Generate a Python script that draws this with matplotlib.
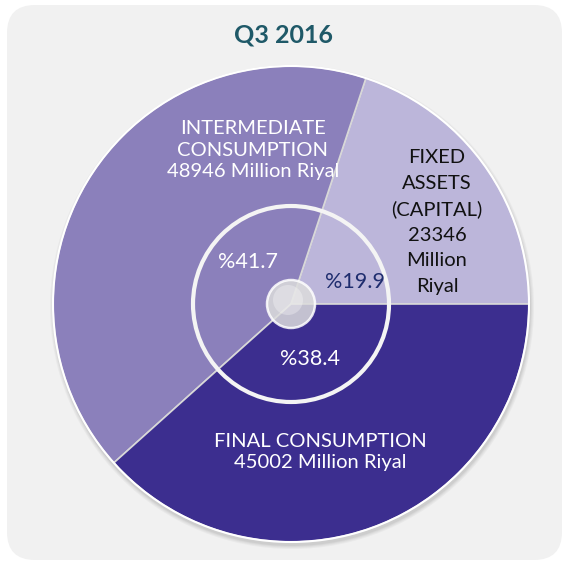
import matplotlib.pyplot as plt
from matplotlib.patches import Circle, FancyBboxPatch

# data
labels = [
    "FIXED\nASSETS\n(CAPITAL)\n23346\nMillion\nRiyal",
    "INTERMEDIATE\nCONSUMPTION\n48946 Million Riyal",
    "FINAL CONSUMPTION\n45002 Million Riyal",
]
values = [23346, 48946, 45002]
pct_labels = ["%19.9", "%41.7", "%38.4"]
colors = ["#BCB6DA", "#8B80BB", "#3C2E8F"]
title = "Q3 2016"

W, H = 568, 565
fig = plt.figure(figsize=(W / 100, H / 100), dpi=100)
ax = fig.add_axes([0, 0, 1, 1])
ax.set_xlim(0, W)
ax.set_ylim(0, H)
ax.set_aspect("equal")
ax.axis("off")
plt.rcParams["font.family"] = ["Lato", "DejaVu Sans"]

# background card
ax.add_patch(FancyBboxPatch((7, 5), 555, 555,
                            boxstyle="round,pad=0,rounding_size=28",
                            facecolor="#f1f1f1", edgecolor="none", zorder=0))

cx, cy, r = 291, H - 304, 238

# soft shadow
for k, a in enumerate([0.05, 0.05, 0.06, 0.08]):
    ax.add_patch(Circle((cx + 1, cy - 3), r + 4 - k, facecolor="#555555",
                        alpha=a, edgecolor="none", zorder=1))

wedges, _ = ax.pie(values, colors=colors, startangle=0, counterclock=True,
                   center=(cx, cy), radius=r, frame=True,
                   wedgeprops=dict(edgecolor="#d8d8d8", linewidth=1.2))
for w in wedges:
    w.set_zorder(2)
ax.set_xlim(0, W)
ax.set_ylim(0, H)
ax.axis("off")

# outer white rim
ax.add_patch(Circle((cx, cy), r, facecolor="none", edgecolor="white",
                    linewidth=1.5, zorder=3))
# inner ring
ax.add_patch(Circle((cx, cy), 98, facecolor="none", edgecolor="#f4f4f4",
                    linewidth=3, zorder=3))
# center knob
ax.add_patch(Circle((cx, cy), 24, facecolor="#dcdcdc", alpha=0.85,
                    edgecolor="white", linewidth=1.8, zorder=4))
ax.add_patch(Circle((cx - 3, cy + 4), 15, facecolor="white", alpha=0.3,
                    edgecolor="none", zorder=4))

ax.text(283, H - 35, title, ha="center", va="center", fontsize=18,
        fontweight="bold", color="#1F5968", zorder=5)

ax.text(437, H - 222, labels[0], ha="center", va="center", fontsize=14.5,
        color="#111111", linespacing=1.6, zorder=5)
ax.text(253, H - 150, labels[1], ha="center", va="center", fontsize=14.5,
        color="white", linespacing=1.3, zorder=5)
ax.text(320, H - 452, labels[2], ha="center", va="center", fontsize=14.5,
        color="white", linespacing=1.3, zorder=5)

ax.text(355, H - 282, pct_labels[0], ha="center", va="center", fontsize=15.5,
        color="#1F2D6E", zorder=5)
ax.text(248, H - 262, pct_labels[1], ha="center", va="center", fontsize=15.5,
        color="white", zorder=5)
ax.text(310, H - 359, pct_labels[2], ha="center", va="center", fontsize=15.5,
        color="white", zorder=5)

fig.savefig("out.png", dpi=100, facecolor="white")
